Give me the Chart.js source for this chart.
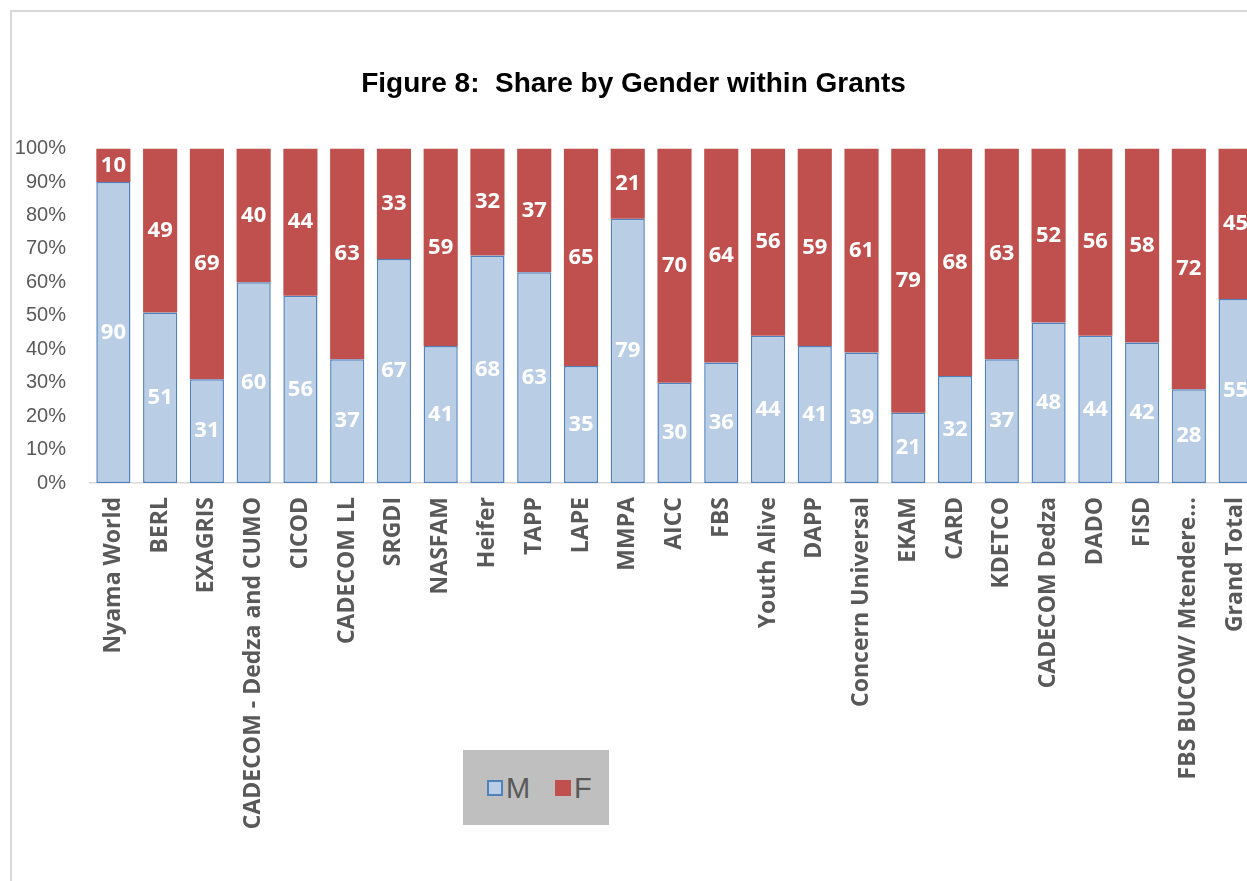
<!DOCTYPE html>
<html lang="en">
<head>
    <meta charset="utf-8" />
    <title>Share by Gender within Grants</title>
    <script src="https://cdn.jsdelivr.net/npm/chart.js@4.4.1/dist/chart.umd.min.js"></script>
    <style>
        body { margin: 0; overflow: hidden; background: #fff; }
        #frame { position: absolute; left: 10px; top: 10px; width: 1300px; height: 900px;
                 border-left: 2px solid #d9d9d9; border-top: 2px solid #d9d9d9; }
        #myChart { position: absolute; left: 0; top: 0; }
        #legend { position: absolute; left: 463px; top: 750px; width: 146px; height: 75px;
                  background: #bfbfbf; font-family: Arial, "Liberation Sans", sans-serif;
                  font-size: 29px; color: #595959; }
        .item { position: absolute; top: 21px; line-height: 34px; }
        .sw { display: inline-block; width: 16px; height: 16px; box-sizing: border-box;
              vertical-align: middle; margin-right: 3px; position: relative; top: -2px; }
    </style>
</head>
<body>
    <div id="frame"></div>
    <canvas id="myChart" width="1268" height="881"></canvas>
    <div id="legend">
        <span class="item" style="left:24px"><span class="sw" style="background:#b9cde5;border:2px solid #4f81bd"></span>M</span>
        <span class="item" style="left:92px"><span class="sw" style="background:#c0504d"></span>F</span>
    </div>
    <script>
        var grants = ['Nyama World', 'BERL', 'EXAGRIS', 'CADECOM - Dedza and CUMO', 'CICOD', 'CADECOM LL',
            'SRGDI', 'NASFAM', 'Heifer', 'TAPP', 'LAPE', 'MMPA', 'AICC', 'FBS', 'Youth Alive', 'DAPP',
            'Concern Universal', 'EKAM', 'CARD', 'KDETCO', 'CADECOM Dedza', 'DADO', 'FISD',
            'FBS BUCOW/ Mtendere\u2026', 'Grand Total'];
        var male = [90, 51, 31, 60, 56, 37, 67, 41, 68, 63, 35, 79, 30, 36, 44, 41, 39, 21, 32, 37, 48, 44, 42, 28, 55];
        var female = [10, 49, 69, 40, 44, 63, 33, 59, 32, 37, 65, 21, 70, 64, 56, 59, 61, 79, 68, 63, 52, 56, 58, 72, 45];
        var yTicks = [0, 10, 20, 30, 40, 50, 60, 70, 80, 90, 100];

        // white numbers in the middle of each segment
        var barLabels = {
            id: 'barLabels',
            afterDatasetsDraw: function(chart) {
                var ctx = chart.ctx;
                ctx.save();
                ctx.fillStyle = '#ffffff';
                ctx.font = 'bold 22px "Open Sans"';
                ctx.textAlign = 'center';
                ctx.textBaseline = 'middle';
                chart.data.datasets.forEach(function(ds, i) {
                    chart.getDatasetMeta(i).data.forEach(function(bar, j) {
                        ctx.fillText(ds.data[j], bar.x, (bar.y + bar.base) / 2);
                    });
                });
                ctx.restore();
            }
        };

        var ctx = document.getElementById('myChart');
        var myChart = new Chart(ctx, {
            type: 'bar',
            data: {
                labels: grants,
                datasets: [{
                    label: 'M',
                    data: male,
                    backgroundColor: '#b9cde5',
                    borderColor: '#4f81bd',
                    borderWidth: 1.5,
                    borderSkipped: false,
                    barPercentage: 0.73,
                    categoryPercentage: 1
                }, {
                    label: 'F',
                    data: female,
                    backgroundColor: '#c0504d',
                    borderWidth: 0,
                    barPercentage: 0.73,
                    categoryPercentage: 1
                }]
            },
            options: {
                responsive: false,
                animation: false,
                layout: { padding: { left: 8, right: 9, top: 0, bottom: 0 } },
                plugins: {
                    legend: { display: false },
                    tooltip: { enabled: false },
                    title: {
                        display: true,
                        text: 'Figure 8:  Share by Gender within Grants',
                        color: '#000000',
                        font: { family: 'Arial, "Liberation Sans"', size: 28, weight: 'bold' },
                        padding: { top: 67, bottom: 48 }
                    }
                },
                scales: {
                    x: {
                        stacked: true,
                        grid: { display: false },
                        border: { color: '#d9d9d9', width: 1.5 },
                        ticks: {
                            autoSkip: false,
                            maxRotation: 90,
                            minRotation: 90,
                            padding: 6,
                            color: '#595959',
                            font: { family: '"Open Sans"', size: 23, weight: 'bold' }
                        },
                        afterFit: function(scale) {
                            scale.height = 398;
                            scale.paddingLeft = 0;
                            scale.paddingRight = 0;
                        }
                    },
                    y: {
                        stacked: true,
                        min: 0,
                        max: 100,
                        grid: { display: false },
                        border: { display: false },
                        afterBuildTicks: function(scale) {
                            scale.ticks = yTicks.map(function(v) { return { value: v }; });
                        },
                        ticks: {
                            padding: 16,
                            color: '#595959',
                            font: { family: 'Arial, "Liberation Sans"', size: 20 },
                            callback: function(v) { return v + '%'; }
                        },
                        afterFit: function(scale) { scale.width = 82; }
                    }
                }
            },
            plugins: [barLabels]
        });
    </script>
</body>
</html>
